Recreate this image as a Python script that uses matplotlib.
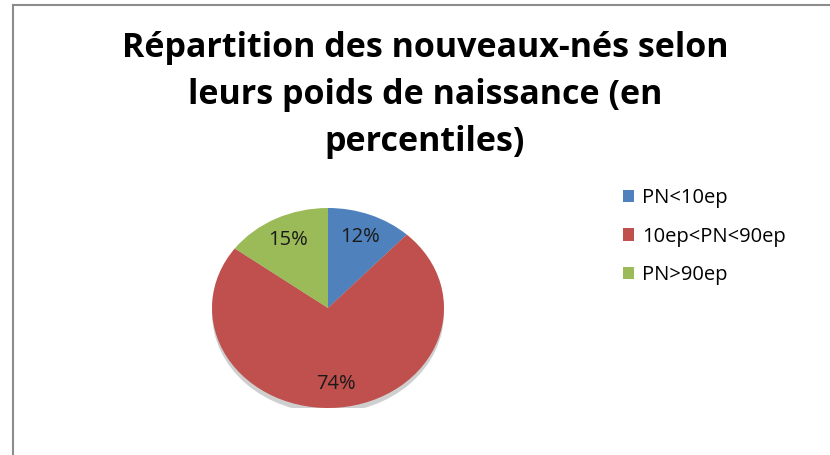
import matplotlib
matplotlib.use("Agg")
import matplotlib.pyplot as plt
from matplotlib.patches import Ellipse, Rectangle
from matplotlib.lines import Line2D

categories = ["PN<10ep", "10ep<PN<90ep", "PN>90ep"]
values = [12, 74, 15]
colors = ["#4F81BD", "#C0504D", "#9BBB59"]
title = "Répartition des nouveaux-nés selon\nleurs poids de naissance (en\npercentiles)"

W, H = 830, 455
fig = plt.figure(figsize=(W / 100, H / 100), dpi=100)
fig.patch.set_facecolor("white")

# frame border
fig.add_artist(Line2D([13 / W, 13 / W], [0, 1 - 5 / H], color="#8c8c8c", lw=1.5, transform=fig.transFigure))
fig.add_artist(Line2D([13 / W, 1], [1 - 5 / H, 1 - 5 / H], color="#8c8c8c", lw=1.5, transform=fig.transFigure))

fig.text(425 / W, 1 - 95 / H, title, ha="center", va="center", fontsize=24.5,
         fontweight="bold", family=["Open Sans", "DejaVu Sans"], linespacing=1.5, color="#000000")

cx, cy, rx, ry = 328, 308, 116, 100
ax = fig.add_axes([(cx - rx) / W, (H - cy - ry) / H, 2 * rx / W, 2 * ry / H])
ax.axis("off")

total = sum(values)
# shadow
ax.add_patch(Ellipse((0.0, -0.05), 2.0, 2.0, facecolor="#cfcfcf", edgecolor="none", zorder=0))
wedges, texts, autotexts = ax.pie(
    values, colors=colors, startangle=90, counterclock=False,
    autopct=lambda p: f"{round(p * total / 100):.0f}%", pctdistance=0.76,
    wedgeprops=dict(edgecolor="none"),
    textprops=dict(fontsize=14.5, color="#1a1a1a", family=["Open Sans", "DejaVu Sans"]),
)
ax.set_aspect("auto")
ax.set_xlim(-1, 1)
ax.set_ylim(-1.0, 1.0)

# legend
handles = [Rectangle((0, 0), 1, 1, facecolor=c, edgecolor="none") for c in colors]
fig.legend(handles, categories, loc="upper left", bbox_to_anchor=(615 / W, 1 - 180 / H),
           frameon=False, handlelength=0.55, handleheight=0.55,
           handletextpad=0.4, labelspacing=0.92, borderaxespad=0,
           prop=dict(family=["Open Sans", "DejaVu Sans"], size=14.5))

fig.savefig("out.png", dpi=100)
